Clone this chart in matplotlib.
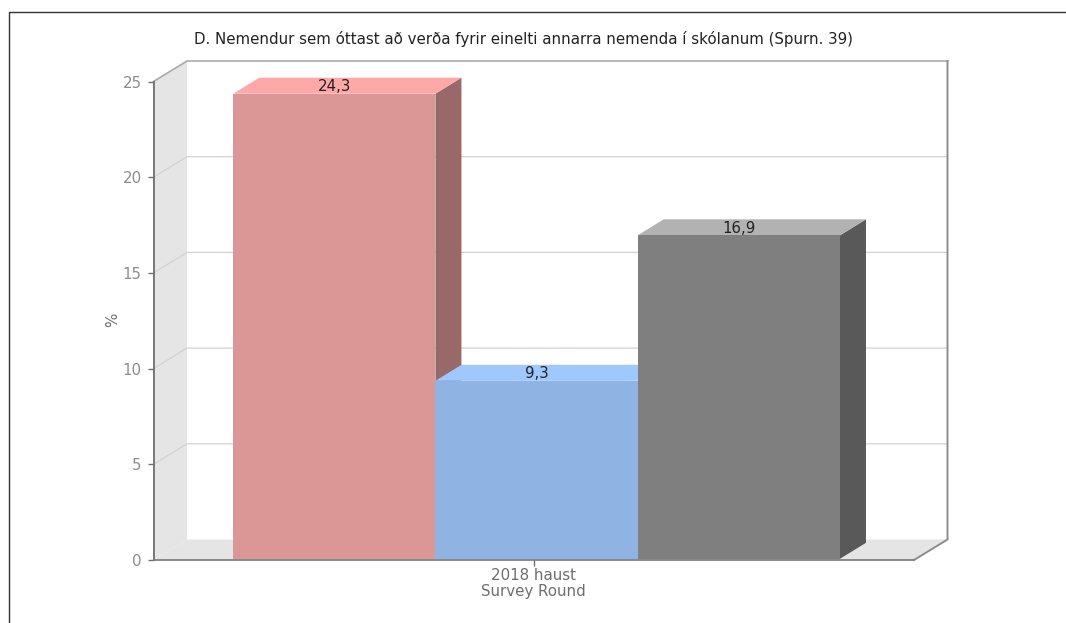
"""D. Nemendur sem óttast - gervi-3D súlurit"""

import matplotlib
matplotlib.use("Agg")
matplotlib.rcParams["font.family"] = ["DejaVu Sans"]

import matplotlib.pyplot as plt
from matplotlib.lines import Line2D
from matplotlib.patches import Polygon

TITLE = "D. Nemendur sem óttast að verða fyrir einelti annarra nemenda í skólanum (Spurn. 39)"
CATEGORY = "2018 haust"
X_LABEL = "Survey Round"
Y_LABEL = "%"

positions = [-1, 0, 1]
values = [24.3, 9.3, 16.9]
value_labels = ["24,3", "9,3", "16,9"]
y_ticks = [0, 5, 10, 15, 20, 25]

front_colors = ["#DB9696", "#8FB3E3", "#7F7F7F"]
top_colors = ["#FFA8A8", "#9FC8FF", "#B2B2B2"]
side_colors = ["#996868", "#6580A0", "#595959"]

W, H = 1066, 623
# dýpt í dílum
WALL_DX, WALL_DY = 33.5, 20.5
BAR_DX, BAR_DY = 26, 16
BAR_SHIFT = 0.014
FONT = 10.8

fig = plt.figure(figsize=(W / 100, H / 100), dpi=100, facecolor="white")
ax = fig.add_axes([153.5 / W, (H - 560) / H, (914 - 153.5) / W, (560 - 81.5) / H])
ax.set_xlim(-1.88, 1.88)
ax.set_ylim(0, 25)
ax.patch.set_visible(False)
for s in ax.spines.values():
    s.set_visible(False)

xmin, xmax = ax.get_xlim()


def to_data(dx, dy):
    """dílar yfir í gagnaeiningar"""
    inv = ax.transData.inverted()
    x0, y0 = inv.transform((0, 0))
    x1, y1 = inv.transform((dx, dy))
    return x1 - x0, y1 - y0


wx, wy = to_data(WALL_DX, WALL_DY)
bx, by = to_data(BAR_DX, BAR_DY)

# veggir og gólf
ax.add_patch(Polygon([(xmin, 0), (xmin + wx, wy), (xmin + wx, 25 + wy), (xmin, 25)],
                     fc="#E5E5E5", ec="none", clip_on=False, zorder=1))
ax.add_patch(Polygon([(xmin, 0), (xmin + wx, wy), (xmax + wx, wy), (xmax, 0)],
                     fc="#E5E5E5", ec="none", clip_on=False, zorder=1))

# hnitanet
for t in y_ticks[1:-1]:
    ax.plot([xmin, xmin + wx, xmax + wx], [t, t + wy, t + wy],
            color="#D2D2D2", lw=0.9, clip_on=False, zorder=2)
ax.plot([xmin, xmin + wx, xmax + wx], [25, 25 + wy, 25 + wy],
        color="#ABABAB", lw=1.2, clip_on=False, zorder=2, solid_joinstyle="miter")
ax.plot([xmax + wx, xmax + wx, xmax], [25 + wy, wy, 0],
        color="#8C8C8C", lw=1.4, clip_on=False, zorder=2, solid_joinstyle="miter")

# súlur
base = to_data(0, 1.2)[1]
for i, (p, v) in enumerate(zip(positions, values)):
    left, right = p - 0.5 + BAR_SHIFT, p + 0.5 + BAR_SHIFT
    z = 3 + i
    ax.add_patch(Polygon([(right, base), (right + bx, base + by), (right + bx, v + base + by), (right, v + base)],
                         fc=side_colors[i], ec="none", clip_on=False, zorder=z))
    ax.add_patch(Polygon([(left, v + base), (left + bx, v + base + by), (right + bx, v + base + by), (right, v + base)],
                         fc=top_colors[i], ec="none", clip_on=False, zorder=z))
    ax.bar(p + BAR_SHIFT, v, width=1, bottom=base, color=front_colors[i], clip_on=False, zorder=z)
    ax.annotate(value_labels[i], (p + BAR_SHIFT, v + base), xytext=(0, 7), textcoords="offset pixels",
                ha="center", va="center", fontsize=FONT, color="#222222", zorder=10,
                annotation_clip=False)

# ásar
ax.plot([xmin, xmin], [0, 25], color="#707070", lw=1.3, clip_on=False, zorder=8)
ax.plot([xmin, xmax], [0, 0], color="#808080", lw=1.3, clip_on=False, zorder=8)
ax.set_yticks(y_ticks)
ax.set_xticks([0])
ax.set_xticklabels([CATEGORY])
ax.tick_params(axis="y", length=4.5, width=1, color="#707070", labelcolor="#8C8C8C",
               labelsize=FONT, pad=4)
ax.tick_params(axis="x", length=4, width=1, color="#707070", labelcolor="#6E6E6E",
               labelsize=FONT, pad=1.8)
ax.set_axisbelow(False)

fig.text(524 / W, 1 - 39 / H, TITLE, ha="center", va="center", fontsize=FONT, color="#222222")
fig.text(533 / W, 1 - 591.5 / H, X_LABEL, ha="center", va="center", fontsize=FONT, color="#6E6E6E")
fig.text(113 / W, 1 - 320 / H, Y_LABEL, ha="center", va="center", rotation=90, fontsize=FONT, color="#6E6E6E")

# rammi
fig.add_artist(Line2D([8.5 / W, 8.5 / W, 1], [0, 1 - 11.5 / H, 1 - 11.5 / H],
                      color="#333333", lw=1, transform=fig.transFigure))

fig.savefig("out.png", dpi=100)
